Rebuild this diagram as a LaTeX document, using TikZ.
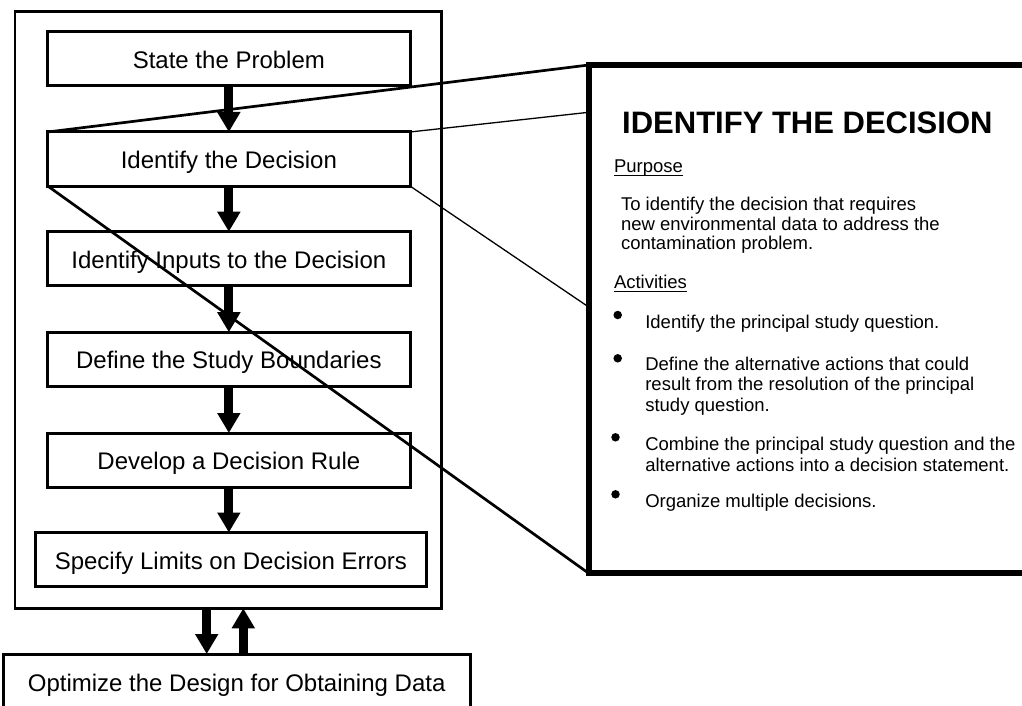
\documentclass[tikz,border=0pt]{standalone}
\usepackage{fontspec}
\setmainfont{Liberation Sans}
\usetikzlibrary{arrows.meta}
\begin{document}
\begin{tikzpicture}[x=1pt,y=-1pt,
  frame/.style={draw, line width=2.8pt, inner sep=0pt, outer sep=0pt},
  stage/.style={draw, fill=white, line width=3pt, inner sep=0pt, outer sep=0pt,
    minimum height=54pt, text height=20pt, text depth=1pt,
    font=\fontsize{24}{28}\selectfont},
  detailbox/.style={draw, fill=white, line width=5.7pt, inner sep=0pt, outer sep=0pt},
  flow/.style={line width=9pt, -{Triangle[width=22pt,length=20pt]}},
  thickln/.style={line width=2.7pt},
  thinln/.style={line width=1.3pt},
  body/.style={anchor=base west, inner sep=0pt, outer sep=0pt, font=\fontsize{18.5}{20}\selectfont},
  bulletdot/.style={circle, fill=black, inner sep=0pt, minimum size=8.5pt}]
\useasboundingbox (0,0) rectangle (1022,706);
\clip (0,0) rectangle (1022,706);
% outer frame
\node[frame, minimum width=426.7pt, minimum height=596.6pt] (frame) at (228.35,310) {};
% stages
\node[stage, minimum width=362.3pt] (p1) at (228.85,59) {State the Problem};
\node[stage, minimum width=362.3pt] (p2) at (228.85,159) {Identify the Decision};
\node[stage, minimum width=362.3pt] (p3) at (228.85,258.7) {Identify Inputs to the Decision};
\node[stage, minimum width=362.3pt] (p4) at (228.85,359.2) {Define the Study Boundaries};
\node[stage, minimum width=362.3pt] (p5) at (228.85,460) {Develop a Decision Rule};
\node[stage, minimum width=391.7pt] (p6) at (230.85,559.5) {Specify Limits on Decision Errors};
\node[stage, minimum width=466.7pt, minimum height=55.4pt] (opt) at (236.65,681.7) {Optimize the Design for Obtaining Data};
% flow arrows
\draw[flow] (p1.south) -- (p2.north);
\draw[flow] (p2.south) -- (p3.north);
\draw[flow] (p3.south) -- (p4.north);
\draw[flow] (p4.south) -- (p5.north);
\draw[flow] (p5.south) -- (p5.south |- p6.north);
\coordinate (dn) at (206.7,0);
\coordinate (up) at (243.3,0);
\draw[flow] (frame.south -| dn) -- (opt.north -| dn);
\draw[flow] (opt.north -| up) -- (frame.south -| up);
% detail box
\node[detailbox, minimum width=451.3pt, minimum height=508.3pt] (detail) at (814.35,319.15) {};
% zoom lines
\draw[thickln] (p2.north west) -- (detail.north west);
\draw[thinln] (p2.north east) -- ([yshift=-47.3pt]detail.north west);
\draw[thinln] (p2.south east) -- ([yshift=-242pt]detail.north west);
\draw[thickln] (p2.south west) -- (detail.south west);
% detail text
\node[anchor=base west, inner sep=0pt, font=\fontsize{31}{34}\selectfont\bfseries] (title) at (622,134) {IDENTIFY THE DECISION};
\node[body] (purpose) at (614,172.7) {Purpose};
\draw[line width=1.1pt] ([yshift=-2.8pt]purpose.base west) -- ([yshift=-2.8pt]purpose.base east);
\node[body] (pl1) at (621,210.7) {To identify the decision that requires};
\node[body] (pl2) at (621,230.3) {new environmental data to address the};
\node[body] (pl3) at (621,249.7) {contamination problem.};
\node[body] (activities) at (614,288.3) {Activities};
\draw[line width=1.1pt] ([yshift=-2.8pt]activities.base west) -- ([yshift=-2.8pt]activities.base east);
\node[bulletdot] (b1) at (617.7,315) {};
\node[bulletdot] (b2) at (617.7,358.3) {};
\node[bulletdot] (b3) at (615.5,437.3) {};
\node[bulletdot] (b4) at (615.5,494.3) {};
\node[body] (a1) at (645.3,328.5) {Identify the principal study question.};
\node[body] (a2a) at (645.3,370) {Define the alternative actions that could};
\node[body] (a2b) at (645.3,390.5) {result from the resolution of the principal};
\node[body] (a2c) at (645.3,411) {study question.};
\node[body] (a3a) at (645.3,450.7) {Combine the principal study question and the};
\node[body] (a3b) at (645.3,471) {alternative actions into a decision statement.};
\node[body] (a4) at (645.3,507.7) {Organize multiple decisions.};
\end{tikzpicture}
\end{document}
